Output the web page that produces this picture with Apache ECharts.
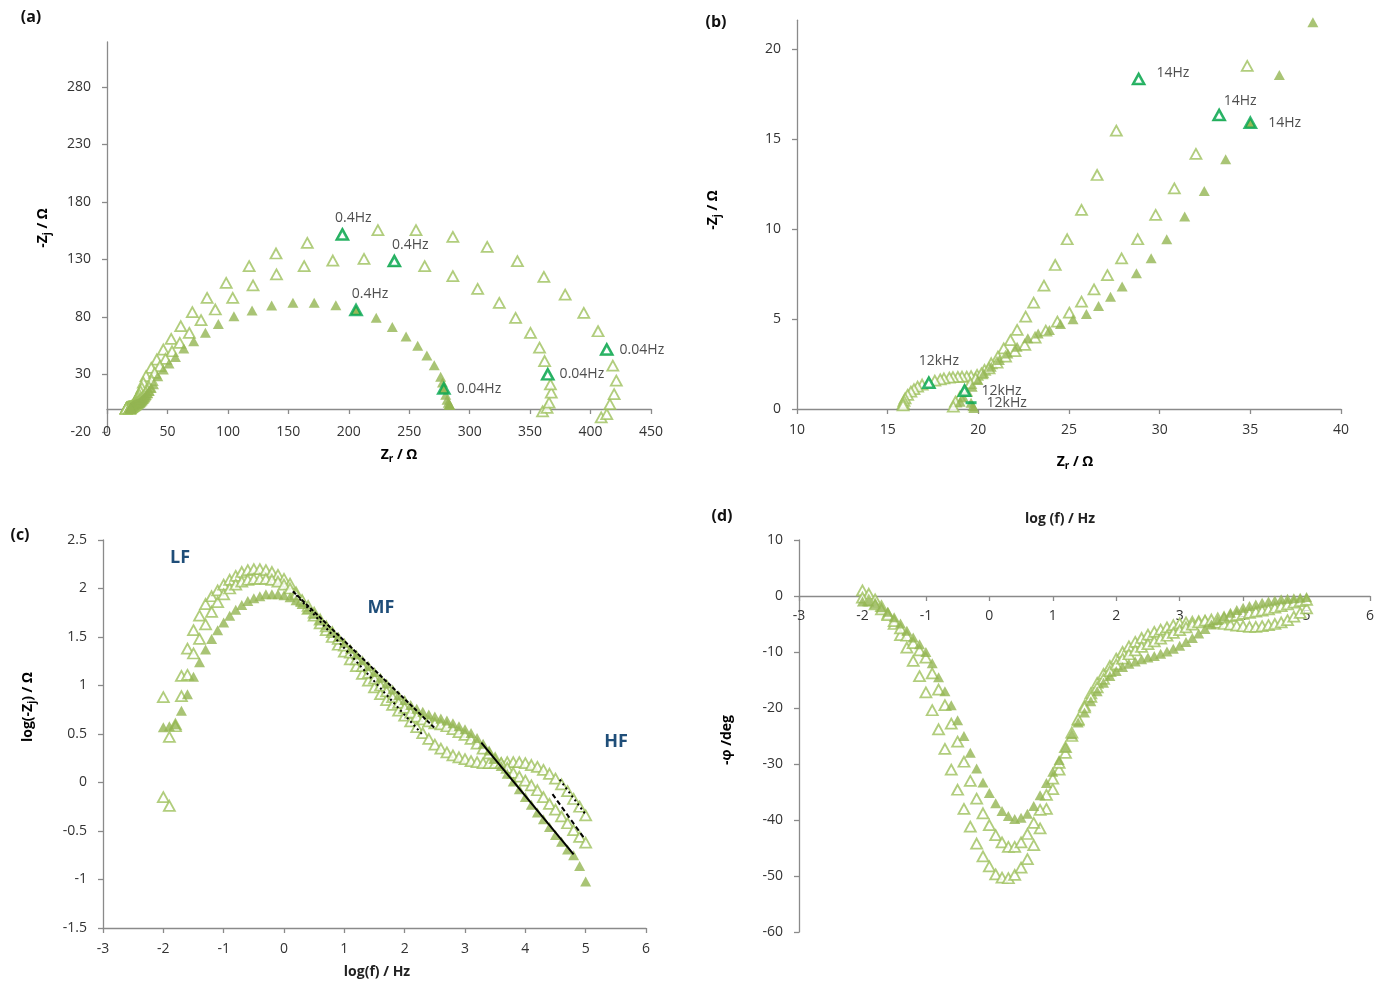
<!DOCTYPE html>
<html><head><meta charset="utf-8">
<script src="https://cdn.jsdelivr.net/npm/echarts@6/dist/echarts.min.js"></script>
<style>html,body{margin:0;padding:0;background:#fff}#c{width:1390px;height:985px}</style>
</head><body><div id="c"></div>
<script>
// ---------- (a) Nyquist, full range (Zr, -Zj) ----------
const nyqFilledLF = [[283.5,3.7],[283.3,3.8],[283,4.0],[282.3,5.5],[281.3,8.1],[280.2,12.3],[278.6,17.8],[277.5,23],[276,28],[270.7,38],[264.6,46.5],[257,55],[247.4,63],[236,71.4],[222.7,79.3],[206,86],[189.3,90.3],[171.4,92.3],[153.8,92.3],[136.2,90],[120,85.6],[105,80.7],[92.1,74],[81.4,66.2],[71.7,59],[63.5,52.5],[56.6,45.3],[51.3,39.5],[46.6,34.3],[42,28.5]];
const nyqHollowALF = [[408.8,-7.3],[413.4,-4.4],[416,4.3],[419.5,13],[421.3,24.6],[418.4,37.7],[413.4,51.7],[406.2,67.6],[394.4,83.6],[379,99.5],[361.4,114.9],[339.5,128.6],[314.5,141],[286.1,149.7],[255.6,155.5],[224.1,155.5],[194.7,151.8],[165.7,144.5],[139.8,135.2],[117.6,124.2],[98.6,109.7],[82.8,96.6],[70.6,84.2],[61,72],[53.1,61],[46.6,51.7],[41.2,43],[36.6,35.7],[32.3,28.5],[30.1,23]];
const nyqHollowBLF = [[360.3,-2],[364,1],[365.7,5.5],[367.5,14.2],[366.8,21.4],[364.6,30.1],[362,41.7],[357.8,53.3],[350.3,66.2],[338,79.3],[324.5,92.3],[306.6,104.5],[286.1,115.5],[262.8,124.2],[237.7,128.6],[212.6,130.6],[186.8,129.1],[163.1,124.2],[140.2,117],[120.8,107.4],[104,96.6],[89.6,86.5],[77.8,77.2],[68.1,66.2],[60.2,57.5],[53.8,50.2],[48.4,43.5],[43.7,37.2],[39.4,31.4],[37,25]];
// ---------- (b) Nyquist, high-frequency zoom ----------
const nyqFilledHF = [[38.45,21.48],[36.6,18.56],[35,15.9],[33.64,13.87],[32.46,12.11],[31.38,10.69],[30.39,9.43],[29.53,8.37],[28.72,7.54],[27.93,6.8],[27.29,6.24],[26.63,5.72],[25.96,5.28],[25.22,4.98],[24.53,4.72],[23.92,4.39],[23.3,4.2],[22.73,3.93],[22.14,3.46],[21.63,3.09],[21.16,2.72],[20.71,2.35],[20.3,1.98],[19.98,1.61],[19.66,1.24],[19.41,0.96],[19.16,0.69],[19.0,0.4],[19.6,0.35],[19.7,0.15],[19.75,0.05]];
const nyqHollowAHF = [[28.84,18.33],[27.61,15.46],[26.55,13],[25.69,11.06],[24.9,9.43],[24.24,8],[23.62,6.85],[23.05,5.91],[22.61,5.13],[22.14,4.39],[21.77,3.83],[21.4,3.37],[21.08,2.91],[20.71,2.54],[20.34,2.17],[19.93,1.89],[19.6,1.82],[19.36,1.8],[19.1,1.8],[18.87,1.78],[18.6,1.77],[18.4,1.74],[18.1,1.7],[17.9,1.65],[17.6,1.58],[17.27,1.46],[16.9,1.36],[16.65,1.24],[16.45,1.1],[16.28,0.96],[16.1,0.78],[15.96,0.59],[15.9,0.45],[15.86,0.31],[15.85,0.2]];
const nyqHollowBHF = [[34.83,19.06],[33.28,16.33],[32,14.17],[30.81,12.26],[29.78,10.78],[28.79,9.43],[27.9,8.37],[27.12,7.44],[26.38,6.65],[25.69,5.96],[25.02,5.35],[24.36,4.85],[23.72,4.35],[23.13,3.96],[22.56,3.56],[22.02,3.22],[21.5,2.91],[21.03,2.57],[20.59,2.26],[20.17,1.98],[19.85,1.7],[19.56,1.43],[19.24,1.02],[18.99,0.69],[18.74,0.41],[18.62,0.13]];
// highlighted frequencies [Zr, -Zj, label]
const hlA_filled = [[206,86,'0.4Hz'],[278.6,17.8,'0.04Hz']];
const hlA_hollowA = [[194.7,151.8,'0.4Hz'],[413.4,51.7,'0.04Hz']];
const hlA_hollowB = [[237.7,128.6,'0.4Hz'],[364.6,30.1,'0.04Hz']];
const hlB_filled = [[35,15.9,'14Hz'],[19.6,0.35,'12kHz']];
const hlB_hollowA = [[28.84,18.33,'14Hz'],[17.27,1.46,'12kHz']];
const hlB_hollowB = [[33.28,16.33,'14Hz'],[19.24,1.02,'12kHz']];
// ---------- (c),(d) Bode ----------
const logF = [-2,-1.9,-1.8,-1.7,-1.6,-1.5,-1.4,-1.3,-1.2,-1.1,-1,-0.9,-0.8,-0.7,-0.6,-0.5,-0.4,-0.3,-0.2,-0.1,0,0.1,0.2,0.3,0.4,0.5,0.6,0.7,0.8,0.9,1,1.1,1.2,1.3,1.4,1.5,1.6,1.7,1.8,1.9,2,2.1,2.2,2.3,2.4,2.5,2.6,2.7,2.8,2.9,3,3.1,3.2,3.3,3.4,3.5,3.6,3.7,3.8,3.9,4,4.1,4.2,4.3,4.4,4.5,4.6,4.7,4.8,4.9,5];
const magFilled = [0.57,0.58,0.60,0.74,0.91,1.09,1.24,1.37,1.48,1.57,1.65,1.72,1.78,1.83,1.87,1.90,1.92,1.94,1.94,1.94,1.93,1.91,1.88,1.84,1.79,1.74,1.68,1.62,1.56,1.50,1.44,1.38,1.32,1.26,1.20,1.14,1.08,1.02,0.96,0.90,0.85,0.80,0.76,0.73,0.70,0.68,0.66,0.64,0.61,0.58,0.55,0.51,0.46,0.40,0.33,0.25,0.17,0.09,0.01,-0.07,-0.15,-0.23,-0.31,-0.38,-0.46,-0.54,-0.61,-0.69,-0.75,-0.86,-1.02];
const magHollowA = [-0.15,-0.24,0.60,1.10,1.38,1.57,1.72,1.84,1.92,1.98,2.04,2.09,2.13,2.17,2.19,2.20,2.20,2.19,2.17,2.14,2.10,2.05,1.96,1.87,1.79,1.72,1.64,1.57,1.50,1.42,1.35,1.27,1.20,1.12,1.05,0.98,0.91,0.85,0.80,0.74,0.69,0.63,0.57,0.51,0.45,0.39,0.35,0.31,0.28,0.26,0.24,0.22,0.21,0.20,0.20,0.20,0.20,0.21,0.21,0.21,0.20,0.18,0.16,0.13,0.09,0.04,-0.02,-0.09,-0.17,-0.25,-0.34];
const magHollowB = [0.88,0.47,0.58,0.89,1.11,1.33,1.48,1.63,1.76,1.86,1.94,2.00,2.04,2.07,2.09,2.10,2.10,2.10,2.09,2.07,2.04,2.00,1.94,1.88,1.82,1.75,1.68,1.61,1.55,1.48,1.41,1.34,1.27,1.20,1.13,1.07,1.00,0.94,0.88,0.82,0.77,0.72,0.68,0.65,0.63,0.61,0.60,0.58,0.55,0.52,0.49,0.45,0.40,0.35,0.30,0.25,0.20,0.15,0.10,0.06,0.02,-0.03,-0.08,-0.15,-0.22,-0.28,-0.35,-0.42,-0.49,-0.56,-0.62];
const phaseFilled = [-1.0,-1.0,-1.4,-2.0,-2.8,-3.8,-4.9,-6.2,-7.4,-8.6,-10.0,-12.0,-14.5,-17.0,-19.5,-22.2,-25.0,-28.0,-30.8,-33.3,-35.2,-37.0,-38.4,-39.3,-39.8,-39.6,-38.9,-37.5,-35.6,-33.4,-31.4,-29.3,-27.0,-24.7,-22.6,-20.8,-18.8,-17.0,-15.5,-14.3,-13.4,-12.7,-12.1,-11.7,-11.3,-11.0,-10.7,-10.3,-9.9,-9.4,-8.9,-8.2,-7.5,-6.7,-5.9,-5.1,-4.3,-3.6,-3.0,-2.5,-2.1,-1.8,-1.5,-1.2,-1.0,-0.8,-0.6,-0.5,-0.4,-0.3,-0.2];
const phaseHollowA = [1.0,0.4,-0.6,-1.8,-3.2,-5.0,-7.0,-9.2,-11.6,-14.3,-17.2,-20.4,-23.8,-27.3,-31.0,-34.6,-38.0,-41.2,-44.2,-46.5,-48.3,-49.7,-50.3,-50.4,-49.8,-48.5,-47.0,-44.5,-41.5,-38.0,-34.5,-31.0,-28.0,-25.0,-22.2,-19.6,-17.4,-15.5,-13.9,-12.5,-11.2,-10.0,-9.0,-8.2,-7.5,-6.9,-6.4,-6.0,-5.6,-5.2,-4.9,-4.7,-4.6,-4.5,-4.5,-4.6,-4.8,-5.0,-5.1,-5.3,-5.4,-5.5,-5.5,-5.4,-5.2,-5.0,-4.7,-4.3,-3.7,-3.0,-2.2];
const phaseHollowB = [-0.3,-0.8,-1.5,-2.4,-3.4,-4.5,-5.8,-7.1,-8.4,-9.7,-11.0,-13.8,-16.7,-19.5,-22.8,-26.0,-29.6,-33.0,-36.2,-38.8,-40.9,-42.7,-44.0,-44.8,-44.8,-44.0,-42.5,-40.5,-38.2,-35.5,-32.6,-29.8,-27.0,-24.4,-22.0,-19.9,-18.0,-16.3,-14.8,-13.4,-12.2,-11.2,-10.4,-9.7,-9.1,-8.6,-8.1,-7.6,-7.1,-6.6,-6.1,-5.6,-5.1,-4.7,-4.4,-4.2,-4.0,-3.8,-3.6,-3.4,-3.2,-3.0,-2.8,-2.6,-2.4,-2.1,-1.8,-1.5,-1.2,-0.9,-0.7];
// linear fits drawn on (c): [[x1,y1],[x2,y2]]
const fitFilledMF = [[0.15,1.97],[2.5,0.56]];
const fitHollowAMF = [[0.15,1.97],[2.3,0.49]];
const fitFilledHF = [[3.27,0.41],[4.8,-0.74]];
const fitHollowBHF = [[4.45,-0.12],[4.97,-0.57]];
const fitHollowAHF = [[4.57,0.03],[5.0,-0.33]];
// tick labels
const ticksAx = [0,50,100,150,200,250,300,350,400,450];
const ticksAy = [-20,30,80,130,180,230,280];
const ticksBx = [10,15,20,25,30,35,40];
const ticksBy = [0,5,10,15,20];
const ticksCx = [-3,-2,-1,0,1,2,3,4,5,6];
const ticksCy = [-1.5,-1,-0.5,0,0.5,1,1.5,2,2.5];
const ticksDx = [-3,-2,-1,0,1,2,3,4,5,6];
const ticksDy = [-60,-50,-40,-30,-20,-10,0,10];

// ---------- styles ----------
const FONT = 'Open Sans';
const AXC = '#8a8a8a';
const TXT = '#333333';
const FILL = '#93B553';
const HOLLOW = '#9DC15D';
const HL = '#00A651';
const styleFilled = {color: FILL};
const styleHollow = {color: '#ffffff', borderColor: HOLLOW, borderWidth: 1.8};

function zip(xs, ys){ return xs.map((x,i)=>[x, ys[i]]); }
function scat(data, idx, style, z){
  return {type:'scatter', xAxisIndex:idx, yAxisIndex:idx, data:data, symbol:'triangle',
    symbolSize:[11,10], itemStyle:style, z:z||2, silent:true, animation:false};
}
function hl(list, idx, filled, layouts, symbols){
  return {type:'scatter', xAxisIndex:idx, yAxisIndex:idx, z:10, silent:true, animation:false,
    data: list.map((p,i)=>{
      const sym = (symbols && symbols[i]) || 'triangle';
      return {value:[p[0],p[1]], symbol: sym,
        symbolSize: sym==='rect' ? [11,3] : [11,10],
        itemStyle: sym==='rect' ? {color:HL} : {color: filled ? FILL : '#ffffff', borderColor: HL, borderWidth: 2.6},
        label: Object.assign({show:true, formatter:p[2], color:'#222', fontFamily:FONT, fontSize:14}, layouts[i])};
    })};
}
function fit(seg, type, width){
  return {type:'line', xAxisIndex:2, yAxisIndex:2, data:seg, symbol:'none', z:12, silent:true, animation:false,
    lineStyle:{color:'#000', width:width||2, type:type}};
}
function lbl(ticks, margin){
  return {show:true, customValues:ticks, color:TXT, fontFamily:FONT, fontSize:14, margin:margin};
}
function valAxis(grid, min, max, ticks, extra){
  return Object.assign({type:'value', gridIndex:grid, min:min, max:max, splitLine:{show:false},
    axisLine:{show:true, onZero:false, lineStyle:{color:AXC, width:1.3}},
    axisTick:{show:true, length:5, customValues:ticks, lineStyle:{color:AXC, width:1.3}},
    axisLabel:lbl(ticks, 14)}, extra||{});
}

const sub = {fontSize:10, fontFamily:FONT, fontWeight:'bold', color:'#222', padding:[9,0,0,0]};
const main = {fontSize:14, fontFamily:FONT, fontWeight:'bold', color:'#222'};
function title(x, y, text, rot){
  return {type:'text', x:x, y:y, rotation: rot ? Math.PI/2 : 0,
    style:{text:text, rich:{m:main, s:sub}, align:'center', verticalAlign:'middle'}};
}
function plain(x, y, text, size, color, weight){
  return {type:'text', x:x, y:y, style:{text:text, fontFamily:FONT, fontSize:size, fill:color, fontWeight:weight||'bold', align:'center', verticalAlign:'middle'}};
}

const chart = echarts.init(document.getElementById('c'), null, {renderer:'canvas'});
chart.setOption({
  backgroundColor:'#ffffff',
  animation:false,
  grid:[
    {left:107, top:42, width:544, height:390},
    {left:797, top:20.2, width:544, height:388.8},
    {left:103, top:540, width:543, height:388},
    {left:799, top:540, width:571, height:392},
    {left:799, top:540, width:571, height:56}
  ],
  xAxis:[
    valAxis(0, 0, 450, ticksAx, {axisLine:{show:true, onZero:true, lineStyle:{color:AXC, width:1.3}}, axisLabel:lbl(ticksAx, -7)}),
    valAxis(1, 10, 40, ticksBx, {axisLabel:lbl(ticksBx, 14)}),
    valAxis(2, -3, 6, ticksCx, {axisLabel:lbl(ticksCx, 14)}),
    valAxis(3, -3, 6, ticksDx, {show:false}),
    valAxis(4, -3, 6, ticksDx, {axisLabel:lbl(ticksDx, 13)})
  ],
  yAxis:[
    valAxis(0, -20, 319.1, ticksAy, {axisLabel:lbl(ticksAy, 16)}),
    valAxis(1, 0, 21.6, ticksBy, {axisLabel:lbl(ticksBy, 16)}),
    valAxis(2, -1.5, 2.5, ticksCy, {axisLabel:lbl(ticksCy, 16)}),
    valAxis(3, -60, 10, ticksDy, {axisLabel:lbl(ticksDy, 16)}),
    {type:'value', gridIndex:4, min:0, max:1, show:false}
  ],
  series:[
    // (a)
    scat(nyqHollowALF.concat(nyqHollowAHF), 0, styleHollow, 3),
    scat(nyqHollowBLF.concat(nyqHollowBHF), 0, styleHollow, 3),
    scat(nyqFilledLF.concat(nyqFilledHF), 0, styleFilled, 4),
    hl(hlA_filled, 0, true, [{position:'top', offset:[14,2]}, {position:'right', distance:6}]),
    hl(hlA_hollowA, 0, false, [{position:'top', offset:[11,2]}, {position:'right', distance:6}]),
    hl(hlA_hollowB, 0, false, [{position:'top', offset:[16,2]}, {position:'right', distance:5}]),
    // (b)
    scat(nyqHollowAHF, 1, styleHollow, 3),
    scat(nyqHollowBHF, 1, styleHollow, 3),
    scat(nyqFilledHF, 1, styleFilled, 4),
    hl(hlB_filled, 1, true, [{position:'right', distance:11}, {position:'right', distance:10}], [null,'rect']),
    hl(hlB_hollowA, 1, false, [{position:'right', distance:11, offset:[0,-6]}, {position:'top', offset:[10,-3]}]),
    hl(hlB_hollowB, 1, false, [{position:'top', offset:[21,4]}, {position:'right', distance:10}]),
    // (c)
    scat(zip(logF, magHollowA), 2, styleHollow, 3),
    scat(zip(logF, magHollowB), 2, styleHollow, 3),
    scat(zip(logF, magFilled), 2, styleFilled, 4),
    fit(fitFilledMF, [4,2], 2),
    fit(fitHollowAMF, [2,3], 2),
    fit(fitFilledHF, 'solid', 2),
    fit(fitHollowBHF, [5,3], 2),
    fit(fitHollowAHF, [2,3], 2),
    // (d)
    scat(zip(logF, phaseHollowA), 3, styleHollow, 3),
    scat(zip(logF, phaseHollowB), 3, styleHollow, 3),
    scat(zip(logF, phaseFilled), 3, styleFilled, 4)
  ],
  graphic:[
    plain(31, 17, '(a)', 16, '#111'),
    plain(716, 22, '(b)', 16, '#111'),
    plain(20, 535, '(c)', 16, '#111'),
    plain(722, 516, '(d)', 16, '#111'),
    title(43, 228, '{m|-Z}{s|j}{m| / Ω}', true),
    title(399, 455, '{m|Z}{s|r}{m| / Ω}', false),
    title(713, 210, '{m|-Z}{s|j}{m| / Ω}', true),
    title(1075, 462, '{m|Z}{s|r}{m| / Ω}', false),
    title(28, 707, '{m|log(-Z}{s|j}{m|) / Ω}', true),
    plain(377, 972, 'log(f) / Hz', 14, '#222'),
    plain(1060, 519, 'log (f) / Hz', 14, '#222'),
    title(727, 740, '{m|-φ /deg}', true),
    plain(180, 558, 'LF', 18, '#1F4E79'),
    plain(381, 608, 'MF', 18, '#1F4E79'),
    plain(616, 742, 'HF', 18, '#1F4E79')
  ]
});
</script></body></html>
